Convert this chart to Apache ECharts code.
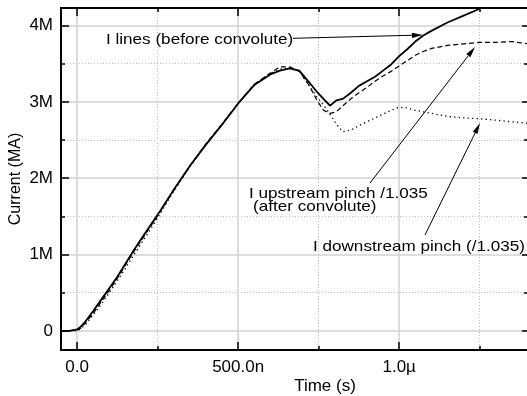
<!DOCTYPE html>
<html><head><meta charset="utf-8">
<script src="https://cdn.jsdelivr.net/npm/echarts@6/dist/echarts.min.js"></script>
<style>html,body{margin:0;padding:0;background:#fff}#c{width:527px;height:396px}</style>
</head><body><div id="c"></div>
<script>
// ---- data (time in ns, current in MA) ----
const timeNs = [-50,-25,0,12,25,50,75,100,125,150,175,200,250,300,350,400,450,500,550,600,630,660,690,720,745,765,785,805,825,850,875,900,925,950,975,1000,1025,1050,1075,1100,1150,1200,1250,1300,1350,1400];
const iLines = [0,0,0.02,0.06,0.12,0.26,0.41,0.56,0.71,0.88,1.05,1.21,1.52,1.85,2.16,2.44,2.70,2.98,3.22,3.36,3.41,3.44,3.41,3.26,3.13,3.04,2.95,3.02,3.04,3.12,3.21,3.27,3.33,3.41,3.49,3.60,3.69,3.79,3.87,3.93,4.04,4.13,4.22,null,null,null];
const iUpstream = [0,0,0.01,0.04,0.10,0.23,0.38,0.53,0.69,0.86,1.03,1.19,1.51,1.84,2.16,2.45,2.71,2.98,3.23,3.38,3.46,3.46,3.40,3.22,3.02,2.89,2.85,2.87,2.95,3.04,3.12,3.19,3.27,3.34,3.40,3.47,3.54,3.61,3.66,3.70,3.74,3.76,3.78,3.78,3.79,3.76];
const iDownstream = [0,0,0,0.03,0.08,0.21,0.35,0.50,0.66,0.82,0.99,1.15,1.48,1.83,2.15,2.44,2.71,2.98,3.23,3.37,3.43,3.44,3.40,3.22,3.06,2.96,2.84,2.71,2.61,2.63,2.69,2.74,2.79,2.84,2.89,2.93,2.92,2.89,2.87,2.85,2.81,2.79,2.78,2.76,2.74,2.72];

const xMajorTicks = [0, 500, 1000];
const xTickLabels = ['0.0', '500.0n', '1.0µ'];
const xMinorTicks = [250, 750, 1250];
const yMajorTicks = [0, 1, 2, 3, 4];
const yTickLabels = ['0', '1M', '2M', '3M', '4M'];
const yMinorTicks = [0.5, 1.5, 2.5, 3.5];

const annotationTexts = [
  'I lines (before convolute)',
  'I upstream pinch /1.035',
  '(after convolute)',
  'I downstream pinch (/1.035)'
];

// ---- build ----
const FONT = '"Liberation Sans", Arial, sans-serif';
const X_MIN = -50, X_MAX = 1400, Y_MIN = -0.25, Y_MAX = 4.23;
const pairs = vals => timeNs.map((t, i) => [t, vals[i]]);

const gridRect = { left: 61, top: 8, width: 467, height: 342, outerBoundsMode: 'none', containLabel: false };

function xAx(gridIndex, position, ticks, len, opts) {
  return Object.assign({
    type: 'value', gridIndex, position, min: X_MIN, max: X_MAX,
    axisLine: { show: true, onZero: false, lineStyle: { color: '#000', width: 2 } },
    axisTick: { show: true, inside: true, length: len, customValues: ticks, lineStyle: { color: '#000', width: 1.5 } },
    axisLabel: { show: false },
    splitLine: { show: false }
  }, opts || {});
}
function yAx(gridIndex, position, ticks, len, opts) {
  return Object.assign({
    type: 'value', gridIndex, position, min: Y_MIN, max: Y_MAX,
    axisLine: { show: true, onZero: false, lineStyle: { color: '#000', width: 2 } },
    axisTick: { show: true, inside: true, length: len, customValues: ticks, lineStyle: { color: '#000', width: 1.5 } },
    axisLabel: { show: false },
    splitLine: { show: false }
  }, opts || {});
}

const xAxis = [
  xAx(0, 'bottom', xMajorTicks, 8, {
    name: 'Time (s)', nameLocation: 'middle', nameGap: 28, nameMoveOverlap: false,
    nameTextStyle: { fontFamily: FONT, fontSize: 17, color: '#000', padding: [0, 0, 0, 61] },
    axisLabel: { show: true, customValues: xMajorTicks, margin: 9, fontFamily: FONT, fontSize: 17, color: '#000',
      formatter: v => xTickLabels[xMajorTicks.indexOf(v)] },
    splitLine: { show: true, lineStyle: { color: '#d2d2d2', width: 1.5 } }
  }),
  xAx(0, 'top', xMajorTicks, 8),
  xAx(1, 'bottom', xMinorTicks, 4, {
    splitLine: { show: true, lineStyle: { color: '#bdbdbd', width: 1, type: [1, 2] } }
  }),
  xAx(1, 'top', xMinorTicks, 4)
];
const yAxis = [
  yAx(0, 'left', yMajorTicks, 8, {
    name: 'Current (MA)', nameLocation: 'middle', nameGap: 37, nameMoveOverlap: false,
    nameTextStyle: { fontFamily: FONT, fontSize: 16, color: '#000' },
    axisLabel: { show: true, customValues: yMajorTicks, margin: 8, fontFamily: FONT, fontSize: 17, color: '#000',
      formatter: v => yTickLabels[yMajorTicks.indexOf(v)] },
    splitLine: { show: true, lineStyle: { color: '#d2d2d2', width: 1.5 } }
  }),
  yAx(0, 'right', yMajorTicks, 6),
  yAx(1, 'left', yMinorTicks, 4, {
    splitLine: { show: true, lineStyle: { color: '#bdbdbd', width: 1, type: [1, 2] } }
  }),
  yAx(1, 'right', yMinorTicks, 4)
];

const lineSeries = (name, vals, style) => ({
  name, type: 'line', xAxisIndex: 0, yAxisIndex: 0, data: pairs(vals),
  showSymbol: false, symbol: 'none', connectNulls: false, clip: true,
  lineStyle: Object.assign({ color: '#000' }, style), z: 5
});

// annotation geometry (pixels)
const annot = [
  { text: annotationTexts[0], x: 106, y: 40 },
  { text: annotationTexts[1], x: 249, y: 193.5 },
  { text: annotationTexts[2], x: 253, y: 206.5 },
  { text: annotationTexts[3], x: 313, y: 246.5 }
];
const arrows = [
  { from: [293, 38.3], to: [423, 35] },
  { from: [370, 183], to: [475, 47] },
  { from: [425, 235], to: [480, 123] }
];
const graphic = [];
annot.forEach(a => graphic.push({
  type: 'text', x: a.x, y: a.y, scaleX: 1.14, z: 20,
  style: { text: a.text, fill: '#000', font: '15px ' + FONT, verticalAlign: 'middle', align: 'left' }
}));
arrows.forEach(a => {
  const [x1, y1] = a.from, [x2, y2] = a.to;
  const dx = x2 - x1, dy = y2 - y1, L = Math.hypot(dx, dy), ux = dx / L, uy = dy / L;
  const hl = 11, hw = 2.6;
  const bx = x2 - ux * hl, by = y2 - uy * hl;
  graphic.push({ type: 'line', z: 20, shape: { x1, y1, x2: bx, y2: by }, style: { stroke: '#000', lineWidth: 1 } });
  graphic.push({ type: 'polygon', z: 20, shape: { points: [[x2, y2], [bx - uy * hw, by + ux * hw], [bx + uy * hw, by - ux * hw]] }, style: { fill: '#000' } });
});

const chart = echarts.init(document.getElementById('c'), null, { renderer: 'canvas' });
chart.setOption({
  animation: false,
  backgroundColor: '#fff',
  grid: [Object.assign({}, gridRect), Object.assign({}, gridRect)],
  xAxis, yAxis,
  series: [
    lineSeries('I lines (before convolute)', iLines, { width: 1.8, type: 'solid' }),
    lineSeries('I upstream pinch /1.035 (after convolute)', iUpstream, { width: 1.2, type: [5, 3] }),
    lineSeries('I downstream pinch (/1.035)', iDownstream, { width: 1.3, type: [1.3, 3.2] })
  ],
  graphic
});
</script>
</body></html>
